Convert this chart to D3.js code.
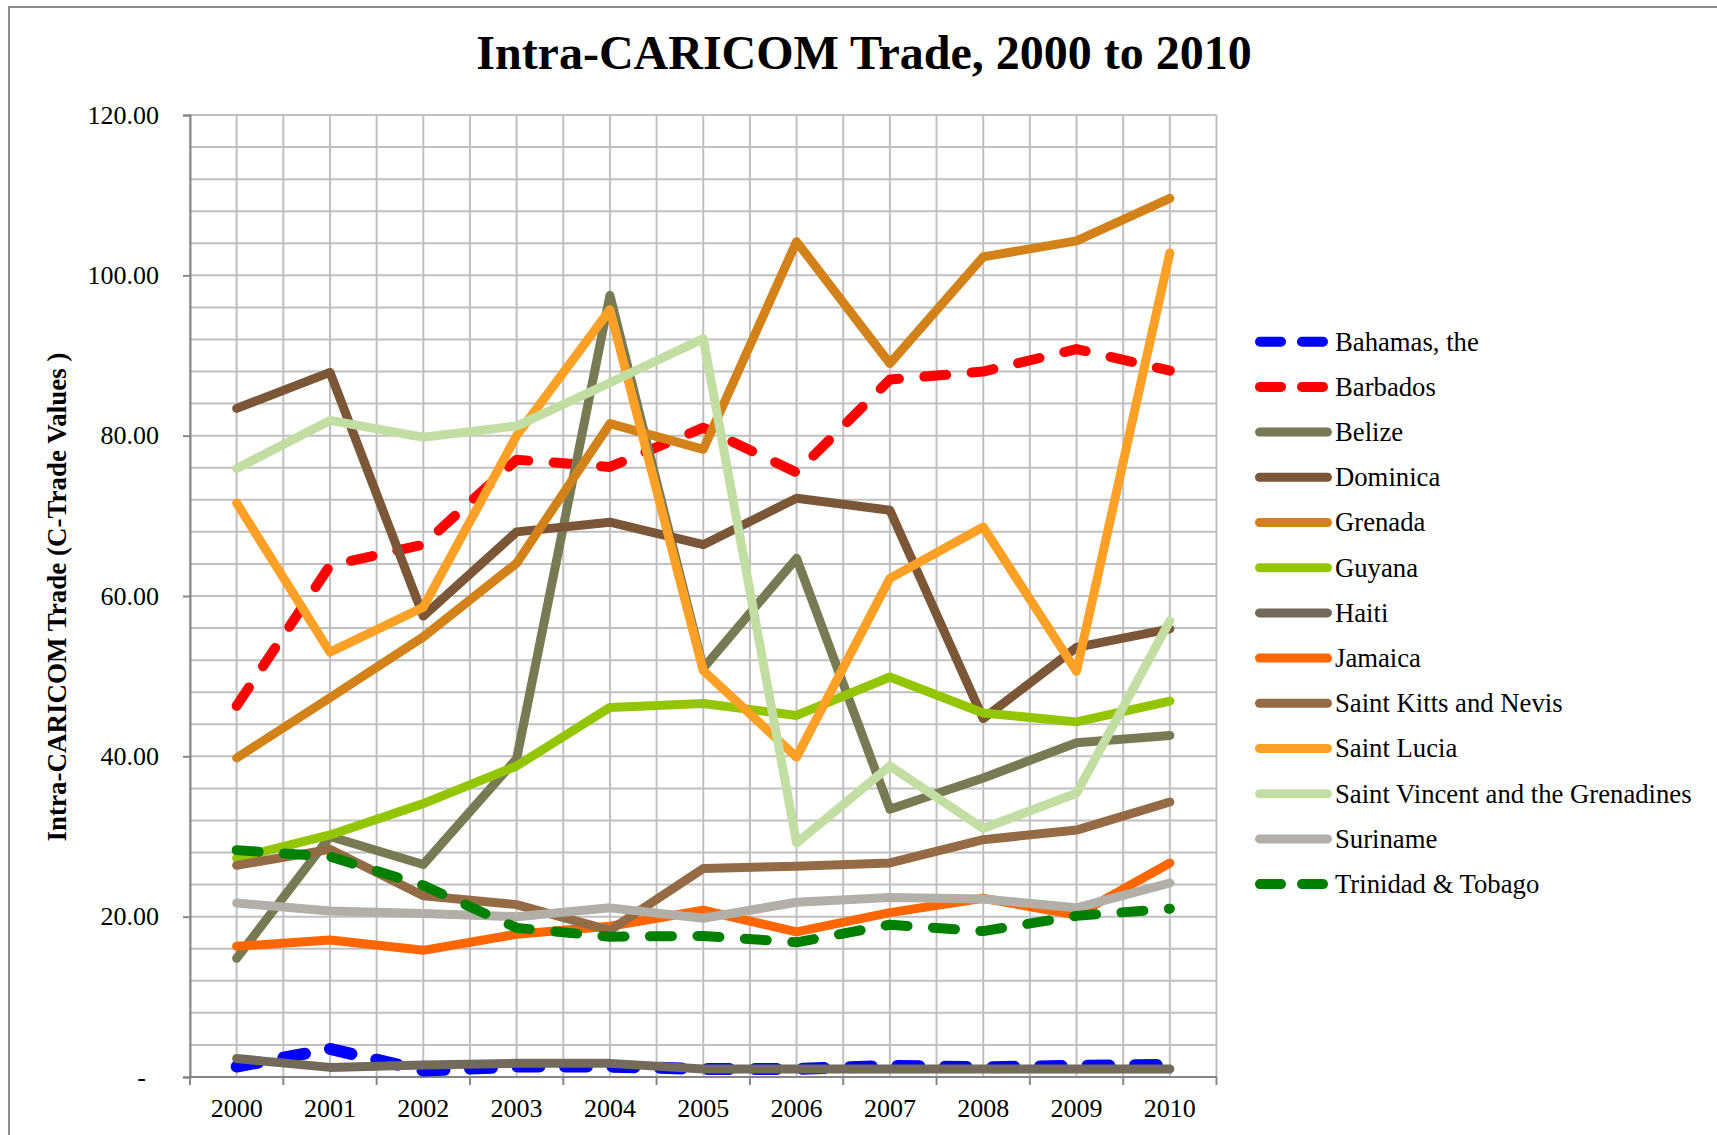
<!DOCTYPE html>
<html>
<head>
<meta charset="utf-8">
<script src="https://cdn.jsdelivr.net/npm/d3@7"></script>
<style>
  html, body { margin: 0; padding: 0; background: #fff; }
  svg { display: block; }
  text { font-family: "Liberation Serif", "Times New Roman", serif; fill: #000; }
</style>
</head>
<body>
<svg id="chart" width="1717" height="1135"></svg>
<script>
// ---- data ----
const years = ["2000","2001","2002","2003","2004","2005","2006","2007","2008","2009","2010"];
const seriesNames = ["Bahamas, the","Barbados","Belize","Dominica","Grenada","Guyana","Haiti","Jamaica","Saint Kitts and Nevis","Saint Lucia","Saint Vincent and the Grenadines","Suriname","Trinidad & Tobago"];
const bahamas   = [1.3, 3.5, 0.8, 1.3, 1.3, 1.0, 1.0, 1.4, 1.2, 1.4, 1.5];
const barbados  = [46.3, 63.8, 66.4, 77.0, 76.1, 81.0, 75.4, 87.0, 88.0, 90.8, 88.1];
const belize    = [14.8, 30.0, 26.5, 39.7, 97.5, 51.0, 64.7, 33.4, 37.3, 41.7, 42.6];
const dominica  = [83.4, 87.9, 57.5, 68.0, 69.2, 66.4, 72.2, 70.7, 44.7, 53.6, 55.9];
const grenada   = [39.8, 47.3, 54.9, 64.1, 81.5, 78.3, 104.2, 89.0, 102.3, 104.3, 109.6];
const guyana    = [27.3, 30.2, 34.1, 38.8, 46.1, 46.6, 45.1, 49.9, 45.4, 44.3, 46.9];
const haiti     = [2.3, 1.2, 1.5, 1.7, 1.7, 1.0, 1.0, 1.0, 1.0, 1.0, 1.0];
const jamaica   = [16.3, 17.1, 15.8, 17.8, 18.8, 20.8, 18.1, 20.5, 22.3, 20.2, 26.7];
const stKitts   = [26.4, 28.4, 22.6, 21.5, 18.3, 26.0, 26.3, 26.7, 29.6, 30.8, 34.3];
const stLucia   = [71.6, 53.0, 58.6, 80.0, 95.7, 50.7, 39.9, 62.2, 68.6, 50.6, 102.8];
const stVincent = [75.9, 81.9, 79.8, 81.2, 86.6, 92.1, 29.2, 38.8, 31.0, 35.4, 56.9];
const suriname  = [21.7, 20.7, 20.4, 20.0, 21.1, 19.8, 21.8, 22.4, 22.2, 21.1, 24.2];
const trinidad  = [28.3, 27.5, 23.9, 18.6, 17.5, 17.6, 16.8, 19.0, 18.2, 20.1, 21.0];
const yTicks = [0, 20, 40, 60, 80, 100, 120];

const seriesValues = [bahamas, barbados, belize, dominica, grenada, guyana, haiti, jamaica, stKitts, stLucia, stVincent, suriname, trinidad];
const seriesColors = ["#0000ff","#ff0000","#777a52","#7b5737","#d38219","#93c600","#736a5b","#ff6600","#946b44","#fda026","#c3dea2","#b2aea8","#008000"];
const seriesDashed = [true, true, false, false, false, false, false, false, false, false, false, false, true];
const seriesWidth  = [12, 10, 9, 9, 9, 9, 9, 9, 9, 9, 9, 9, 10];

// ---- layout ----
const svg = d3.select("#chart");
const plotL = 190, plotR = 1216.5, plotT = 115, plotB = 1077;

const x = d3.scaleBand().domain(years).range([plotL, plotR]).paddingInner(0).paddingOuter(0);
const y = d3.scaleLinear().domain([0, 120]).range([plotB, plotT]);
const cx = d => x(d) + x.bandwidth() / 2;

// outer border (top + left)
svg.append("path").attr("d", "M9,1135 L9,7 L1717,7")
  .attr("fill", "none").attr("stroke", "#8c8c8c").attr("stroke-width", 2);

// title
svg.append("text").attr("x", 864).attr("y", 69).attr("text-anchor", "middle")
  .style("font-size", "48px").style("font-weight", "bold")
  .text("Intra-CARICOM Trade, 2000 to 2010");

// gridlines
const grid = svg.append("g");
grid.selectAll("line.h").data(d3.range(0, 121, 4)).join("line")
  .attr("x1", plotL).attr("x2", plotR).attr("y1", d => y(d)).attr("y2", d => y(d))
  .attr("stroke", "#c0c0c0").attr("stroke-width", 2);
const vpos = [];
years.forEach(yr => { vpos.push(x(yr)); vpos.push(cx(yr)); });
vpos.push(plotR);
grid.selectAll("line.v").data(vpos).join("line")
  .attr("x1", d => d).attr("x2", d => d).attr("y1", plotT).attr("y2", plotB)
  .attr("stroke", "#c0c0c0").attr("stroke-width", 2);

// y axis
const yAxis = svg.append("g").attr("transform", `translate(${plotL},0)`)
  .call(d3.axisLeft(y).tickValues(yTicks).tickSize(7).tickPadding(24)
    .tickFormat(d => d === 0 ? "-" : d.toFixed(2)));
yAxis.select(".domain").attr("stroke", "#868686").attr("stroke-width", 2);
yAxis.selectAll(".tick line").attr("stroke", "#868686").attr("stroke-width", 2);
yAxis.selectAll(".tick text").style("font-size", "26px").style("font-family", "'Liberation Serif', serif").attr("fill", "#000");
yAxis.selectAll(".tick").filter(d => d === 0).select("text").attr("x", -44);

// x axis (ticks at band boundaries, labels at centers)
const xAxis = svg.append("g").attr("transform", `translate(0,${plotB})`);
xAxis.append("line").attr("x1", plotL).attr("x2", plotR).attr("y1", 0).attr("y2", 0)
  .attr("stroke", "#868686").attr("stroke-width", 2);
xAxis.selectAll("line.tk").data(vpos.filter((d, i) => i % 2 === 0 || d === plotR)).join("line")
  .attr("x1", d => d).attr("x2", d => d).attr("y1", 0).attr("y2", 8)
  .attr("stroke", "#868686").attr("stroke-width", 2);
xAxis.selectAll("text").data(years).join("text")
  .attr("x", d => cx(d)).attr("y", 40).attr("text-anchor", "middle")
  .style("font-size", "26px").text(d => d);

// y axis title
svg.append("text").attr("transform", "translate(66,597) rotate(-90)")
  .attr("text-anchor", "middle").style("font-size", "27px").style("font-weight", "bold")
  .text("Intra-CARICOM Trade (C-Trade Values )");

// lines
const line = d3.line().x((d, i) => cx(years[i])).y(d => y(d));
const lines = svg.append("g");
seriesValues.forEach((vals, i) => {
  lines.append("path").attr("d", line(vals))
    .attr("fill", "none").attr("stroke", seriesColors[i]).attr("stroke-width", seriesWidth[i])
    .attr("stroke-linejoin", "round").attr("stroke-linecap", "round")
    .attr("stroke-dasharray", seriesDashed[i] ? "22,25.5" : null);
});

// legend
const lg = svg.append("g");
seriesNames.forEach((name, i) => {
  const yy = 341.7 + i * 45.2;
  if (seriesDashed[i]) {
    lg.append("line").attr("x1", 1260).attr("x2", 1323).attr("y1", yy).attr("y2", yy)
      .attr("stroke", seriesColors[i]).attr("stroke-width", 10).attr("stroke-linecap", "round")
      .attr("stroke-dasharray", "21,21");
  } else {
    lg.append("line").attr("x1", 1259.5).attr("x2", 1327.5).attr("y1", yy).attr("y2", yy)
      .attr("stroke", seriesColors[i]).attr("stroke-width", 9).attr("stroke-linecap", "round");
  }
  lg.append("text").attr("x", 1335).attr("y", yy).attr("dy", "0.33em")
    .style("font-size", "26.7px").text(name);
});
</script>
</body>
</html>
